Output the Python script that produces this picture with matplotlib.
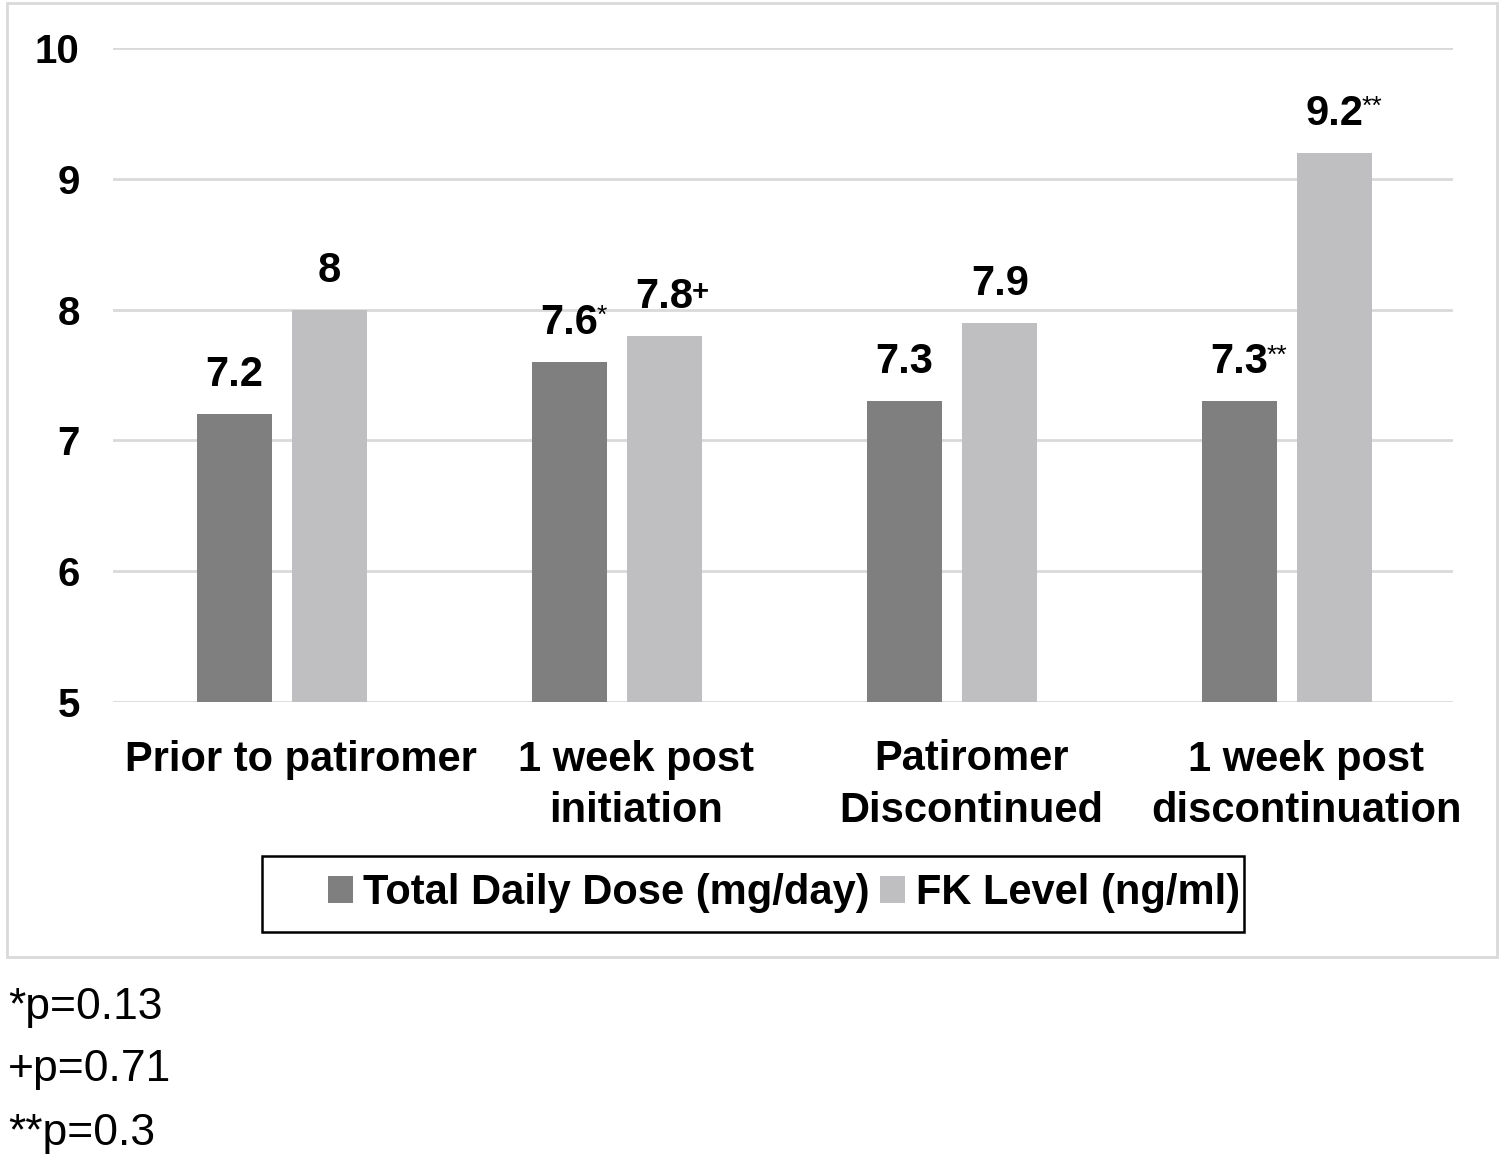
import matplotlib.pyplot as plt, numpy as np
from matplotlib.patches import Rectangle

categories = ['Prior to patiromer', '1 week post\ninitiation', 'Patiromer\nDiscontinued',
              '1 week post\ndiscontinuation']
dose = [7.2, 7.6, 7.3, 7.3]
fk_level = [8.0, 7.8, 7.9, 9.2]
dose_marks = ['', '*', '', '**']
fk_marks = ['', '+', '', '**']
dose_text = ['7.2', '7.6', '7.3', '7.3']
fk_text = ['8', '7.8', '7.9', '9.2']
series_names = ['Total Daily Dose (mg/day)', 'FK Level (ng/ml)']
footnotes = ['*p=0.13', '+p=0.71', '**p=0.3']
yticks = [5, 6, 7, 8, 9, 10]

DARK = '#7f7f80'
LIGHT = '#bfbfc1'
GRID = '#d9d9d9'

plt.rcParams['font.family'] = ['Liberation Sans', 'DejaVu Sans']

fig = plt.figure(figsize=(15, 11.73), dpi=100)
ax = fig.add_axes([113 / 1500, 1 - 702 / 1173, 1340 / 1500, 654 / 1173])

x = np.arange(len(categories))
w = 0.224
off = 0.142
b1 = ax.bar(x - off + 0.005, np.array(dose) - 5, w, bottom=5, color=DARK, zorder=3, label=series_names[0])
b2 = ax.bar(x + off + 0.005, np.array(fk_level) - 5, w, bottom=5, color=LIGHT, zorder=3, label=series_names[1])

ax.set_xlim(-0.5, 3.5)
ax.set_ylim(5, 10)
ax.set_yticks(yticks)
ax.set_yticklabels([str(v) for v in yticks], fontsize=29, fontweight='bold')
# excel puts the category labels a little right of the group centre
ax.set_xticks(x + 0.062)
ax.set_xticklabels(categories, fontsize=30, fontweight='bold', linespacing=1.38)
ax.tick_params(axis='both', length=0)
ax.tick_params(axis='y', pad=24)
ax.tick_params(axis='x', pad=27)
for s in ax.spines.values():
    s.set_visible(False)
ax.yaxis.grid(True, color=GRID, lw=2, zorder=0)
ax.set_axisbelow(True)


def label(xp, val, txt, mark, bold_mark):
    t = ax.annotate(txt, (xp, val), xytext=(0, 20), textcoords='offset points',
                    ha='center', va='baseline', fontsize=30, fontweight='bold', zorder=5)
    if mark:
        ax.annotate(mark, xy=(0.97, 0.97), xycoords=t, ha='left', va='top',
                    fontsize=19 if not bold_mark else 21,
                    fontweight='bold' if bold_mark else 'normal', zorder=5)


for i in range(len(categories)):
    label(x[i] - off + 0.005, dose[i], dose_text[i], dose_marks[i], False)
    label(x[i] + off + 0.005, fk_level[i], fk_text[i], fk_marks[i], fk_marks[i] == '+')

# chart frame and legend box
fig.patches.append(Rectangle((7 / 1500, 1 - 957 / 1173), 1490 / 1500, 954 / 1173,
                             transform=fig.transFigure, fill=False, ec=GRID, lw=2))
fig.patches.append(Rectangle((262 / 1500, 1 - 932 / 1173), 982 / 1500, 76 / 1173,
                             transform=fig.transFigure, fill=False, ec='black', lw=1.8))
leg = fig.legend(handles=[b1, b2], loc='center', bbox_to_anchor=(784 / 1500, 1 - 893 / 1173),
                 ncol=2, frameon=False, handlelength=0.6, handleheight=0.6,
                 handletextpad=0.25, columnspacing=0.25,
                 prop={'size': 30, 'weight': 'bold'})

for i, f in enumerate(footnotes):
    fig.text(8 / 1500, 1 - (1007 + 63 * i) / 1173, f, fontsize=32, va='center', ha='left')

fig.savefig('out.png', dpi=100)
